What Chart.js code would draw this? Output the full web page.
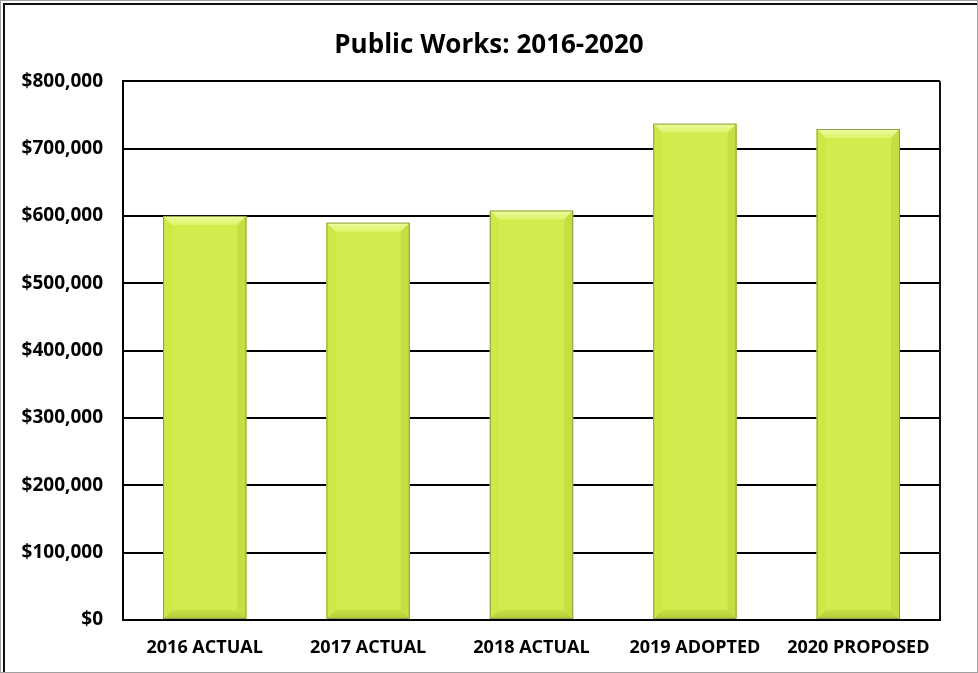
<!DOCTYPE html>
<html>
<head>
<meta charset="utf-8">
<title>Public Works: 2016-2020</title>
<script src="https://cdn.jsdelivr.net/npm/chart.js@4.4.1/dist/chart.umd.min.js"></script>
<style>
  html, body { margin: 0; padding: 0; background: #fff; }
  #wrap { width: 978px; height: 673px; position: relative; }
</style>
</head>
<body>
<div id="wrap"><canvas id="myChart" width="978" height="673"></canvas></div>
<script>
// budget per year
var categories = ["2016 ACTUAL", "2017 ACTUAL", "2018 ACTUAL", "2019 ADOPTED", "2020 PROPOSED"];
var amounts = [600000, 590000, 608000, 737000, 729000];
var yMin = 0;
var yMax = 800000;
var yStep = 100000;

var fontName = "'Open Sans', 'Liberation Sans', sans-serif";

// bevelled look on each bar, drawn over the bar elements
const bevelBars = {
    id: "bevelBars",
    afterDatasetsDraw(chart) {
        const ctx = chart.ctx;
        chart.getDatasetMeta(0).data.forEach(bar => {
            var p = bar.getProps(["x", "y", "base", "width"], true);
            var l = p.x - p.width / 2, r = p.x + p.width / 2;
            var t = p.y, b = p.base;
            var bv = 9;
            ctx.save();
            // top facet
            var g = ctx.createLinearGradient(0, t, 0, t + bv);
            g.addColorStop(0, "#eefca0");
            g.addColorStop(1, "#ddf36a");
            ctx.fillStyle = g;
            ctx.beginPath();
            ctx.moveTo(l, t); ctx.lineTo(r, t); ctx.lineTo(r - bv, t + bv); ctx.lineTo(l + bv, t + bv);
            ctx.closePath(); ctx.fill();
            // bottom facet
            var g2 = ctx.createLinearGradient(0, b - bv, 0, b);
            g2.addColorStop(0, "#c9e145");
            g2.addColorStop(1, "#b2c838");
            ctx.fillStyle = g2;
            ctx.beginPath();
            ctx.moveTo(l, b); ctx.lineTo(r, b); ctx.lineTo(r - bv, b - bv); ctx.lineTo(l + bv, b - bv);
            ctx.closePath(); ctx.fill();
            // left facet
            ctx.fillStyle = "#cfe848";
            ctx.beginPath();
            ctx.moveTo(l, t); ctx.lineTo(l + bv, t + bv); ctx.lineTo(l + bv, b - bv); ctx.lineTo(l, b);
            ctx.closePath(); ctx.fill();
            // right facet
            ctx.fillStyle = "#c6de42";
            ctx.beginPath();
            ctx.moveTo(r, t); ctx.lineTo(r - bv, t + bv); ctx.lineTo(r - bv, b - bv); ctx.lineTo(r, b);
            ctx.closePath(); ctx.fill();
            // outline
            ctx.strokeStyle = "#8f9f45";
            ctx.lineWidth = 1;
            ctx.strokeRect(l + 0.5, t + 0.5, p.width - 1, b - t - 1);
            ctx.restore();
        });
    }
};

// outer frame and right edge of the plot area
const frame = {
    id: "frame",
    beforeDraw(chart) {
        const ctx = chart.ctx;
        ctx.save();
        ctx.fillStyle = "#fff";
        ctx.fillRect(0, 0, chart.width, chart.height);
        ctx.restore();
    },
    afterDraw(chart) {
        const ctx = chart.ctx;
        const a = chart.chartArea;
        ctx.save();
        ctx.strokeStyle = "#a0a0a0";
        ctx.lineWidth = 1;
        ctx.strokeRect(0.5, 0.5, chart.width - 1, chart.height - 1);
        ctx.strokeStyle = "#111";
        ctx.lineWidth = 2;
        ctx.beginPath();
        ctx.moveTo(4, chart.height - 1); ctx.lineTo(4, 4); ctx.lineTo(chart.width - 1, 4);
        ctx.stroke();
        ctx.beginPath();
        ctx.moveTo(a.right, a.top); ctx.lineTo(a.right, a.bottom);
        ctx.stroke();
        ctx.restore();
    }
};

new Chart("myChart", {
    type: "bar",
    data: {
        labels: categories,
        datasets: [{
            data: amounts,
            backgroundColor: "#d3ec4d",
            borderWidth: 0,
            barPercentage: 0.51,
            categoryPercentage: 1
        }]
    },
    options: {
        responsive: false,
        animation: false,
        layout: { padding: { top: 10, right: 0, bottom: 0, left: 0 } },
        plugins: {
            legend: { display: false },
            tooltip: { enabled: false },
            title: {
                display: true,
                text: "Public Works: 2016-2020",
                color: "#000",
                font: { family: fontName, size: 26, weight: "bold" },
                padding: { top: 20, bottom: 20 }
            }
        },
        scales: {
            x: {
                grid: { display: false, drawTicks: false },
                border: { color: "#000", width: 2 },
                ticks: {
                    color: "#000",
                    padding: 17,
                    maxRotation: 0,
                    font: { family: fontName, size: 18, weight: "bold" }
                },
                afterFit: function (scale) { scale.height = 53; }
            },
            y: {
                min: yMin,
                max: yMax,
                grid: { color: "#000", lineWidth: 2, drawTicks: false },
                border: { color: "#000", width: 2 },
                ticks: {
                    stepSize: yStep,
                    color: "#000",
                    padding: 20,
                    font: { family: fontName, size: 19, weight: "bold" },
                    callback: function (v) { return "$" + v.toLocaleString("en-US"); }
                },
                afterFit: function (scale) { scale.width = 123; }
            },
            // empty strip on the right so the title stays centred on the canvas
            yRight: {
                position: "right",
                display: true,
                grid: { display: false, drawTicks: false },
                border: { display: false },
                ticks: { display: false },
                afterFit: function (scale) { scale.width = 38; }
            }
        }
    },
    plugins: [frame, bevelBars]
});
</script>
</body>
</html>
